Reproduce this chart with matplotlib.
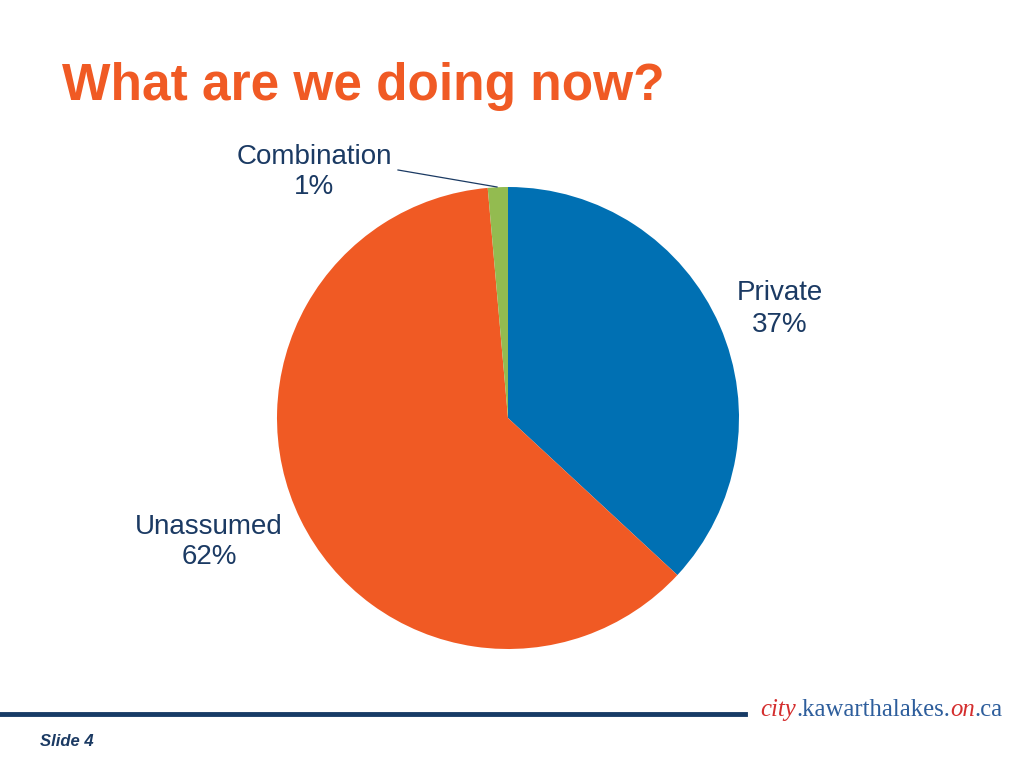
import matplotlib.pyplot as plt

labels = ['Private', 'Unassumed', 'Combination']
values = [36.9, 61.7, 1.4]
pct_labels = ['37%', '62%', '1%']
colors = ['#0070B3', '#F05A24', '#93BB50']

navy = '#1B3A63'

fig = plt.figure(figsize=(10.24, 7.68), dpi=100)
fig.patch.set_facecolor('white')

# title
fig.text(62 / 1024, 1 - 100 / 768, 'What are we doing now?', color='#F05A24',
         fontsize=37, fontweight='bold', family='Liberation Sans', va='baseline', ha='left')

# pie
ax = fig.add_axes([277 / 1024, 1 - 649 / 768, 462 / 1024, 462 / 768])
wedges, _ = ax.pie(values, colors=colors, startangle=90, counterclock=False,
                   wedgeprops=dict(linewidth=0))
ax.set_xlim(-1, 1)
ax.set_ylim(-1, 1)
ax.set_aspect('equal')

lab_font = dict(fontsize=20, color=navy, family='Liberation Sans', ha='center', va='center',
                linespacing=1.25)
fig.text(780 / 1024, 1 - 309 / 768, labels[0] + '\n' + pct_labels[0], **lab_font)
fig.text(209 / 1024, 1 - 542 / 768, labels[1] + '\n' + pct_labels[1], **lab_font)
fig.text(314 / 1024, 1 - 172 / 768, labels[2] + '\n' + pct_labels[2], **lab_font)

# leader line for the small slice
fig.add_artist(plt.Line2D([398 / 1024, 497 / 1024], [1 - 170 / 768, 1 - 187 / 768],
                          color=navy, lw=0.9))

# footer rule
fig.add_artist(plt.Line2D([0, 745 / 1024], [1 - 714 / 768, 1 - 714 / 768],
                          color='#173B66', lw=3.5))

# footer web address, built right to left
parts = [('city', '#D42E2E', 'italic'), ('.kawarthalakes.', '#2E5E9C', 'normal'),
         ('on', '#D42E2E', 'italic'), ('.ca', '#2E5E9C', 'normal')]
prev = None
for txt, col, sty in reversed(parts):
    if prev is None:
        prev = fig.text(1003 / 1024, 1 - 716 / 768, txt, color=col, style=sty,
                        fontsize=17.8, family='Liberation Serif', ha='right', va='baseline')
    else:
        prev = ax.annotate(txt, xy=(0, 0), xycoords=prev, color=col, style=sty,
                           fontsize=17.8, family='Liberation Serif', ha='right', va='bottom',
                           annotation_clip=False)

fig.text(40 / 1024, 1 - 742 / 768, 'Slide 4', color=navy, fontsize=12,
         fontweight='bold', style='italic', family='Liberation Sans', va='center')

fig.savefig('out.png', dpi=100)
